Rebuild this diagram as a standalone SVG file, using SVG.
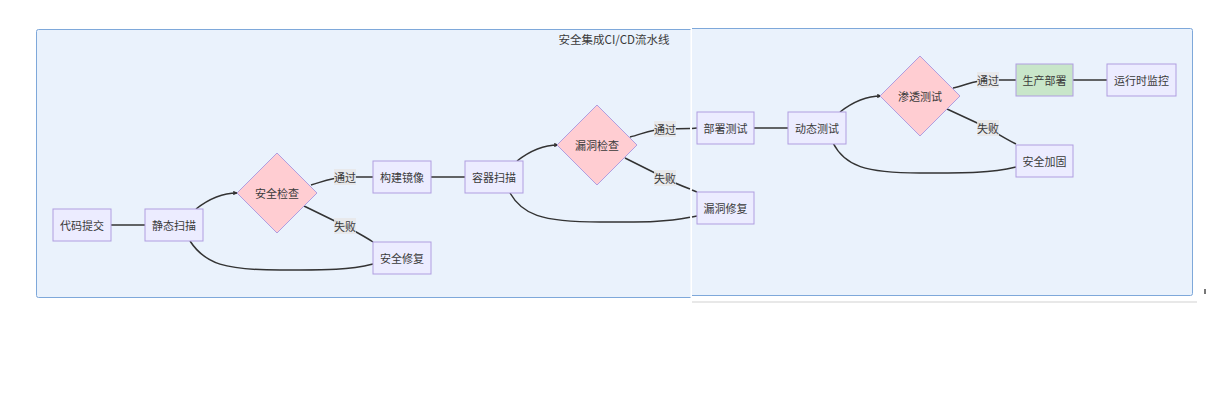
<svg xmlns="http://www.w3.org/2000/svg" width="1206" height="406" viewBox="0 0 1206 406">
<style>
.cluster{fill:#eaf2fc;stroke:none}
.cedge{fill:none;stroke:#7ea8da;stroke-width:1}
.node rect{fill:#ececff;stroke:#b09ee0;stroke-width:1}
.node polygon{fill:#ffcdd2;stroke:#b09ee0;stroke-width:1}
.node.green rect{fill:#c8e6c9}
text{font-family:"Noto Sans CJK SC","Liberation Sans",sans-serif;font-size:11px;fill:#3a3a3a;text-anchor:middle;dominant-baseline:central}
.edge{fill:none;stroke:#333;stroke-width:1.5}
.lbl rect{fill:#e8e8e8;opacity:0.85}
</style>
<defs>
<marker id="tip" viewBox="0 0 6 6" refX="5" refY="3" markerWidth="3" markerHeight="3" orient="auto"><path d="M0,0L6,3L0,6z" fill="#333"/></marker>
</defs>
<rect x="0" y="0" width="1206" height="406" fill="#fff"/>
<g id="cluster">
<rect class="cluster" x="36.5" y="29.5" width="654" height="268"/>
<path class="cedge" d="M690.5,29.5 L38.5,29.5 Q36.5,29.5 36.5,31.5 L36.5,295.5 Q36.5,297.5 38.5,297.5 L690.5,297.5"/>
<rect class="cluster" x="692" y="28.5" width="500.5" height="267"/>
<path class="cedge" d="M692,28.5 L1190.5,28.5 Q1192.5,28.5 1192.5,30.5 L1192.5,293.5 Q1192.5,295.5 1190.5,295.5 L692,295.5"/>
<line x1="692" y1="302" x2="1197" y2="302" stroke="#e8e8e8" stroke-width="2"/>
<rect x="1204" y="289" width="2" height="5" fill="#777"/>
<text x="614" y="39" style="font-size:11.5px">安全集成CI/CD流水线</text>
</g>
<g id="connectors">
<path class="edge" d="M111,225 L145,225"/>
<path class="edge" d="M196,209 C210,198 222,193 237,193" marker-end="url(#tip)"/>
<path class="edge" d="M311,185 C322,182 330,178 345,177 L373,177"/>
<path class="edge" d="M304,206 L345,226 C356,232 364,236 373,242"/>
<path class="edge" d="M373,264 C345,271 320,270 280,270 C225,270 205,264 190,241"/>
<path class="edge" d="M431,177 L465,177"/>
<path class="edge" d="M517,161 C531,150 543,145 558,145" marker-end="url(#tip)"/>
<path class="edge" d="M630,137 C642,134 652,129 665,129 L690,128.5"/>
<path class="edge" d="M692,128.5 L697,128"/>
<path class="edge" d="M625,158 L665,178 C674,183 682,186 690,189"/>
<path class="edge" d="M692,190 L697,192"/>
<path class="edge" d="M697,216 L692,217"/>
<path class="edge" d="M690,217.3 C666,222 648,222 600,222 C540,222 522,214 510,193"/>
<path class="edge" d="M754,128 L788,128"/>
<path class="edge" d="M840,112 C854,101 866,96 881,96" marker-end="url(#tip)"/>
<path class="edge" d="M953,88 C964,86 975,80 988,80 L1016,80"/>
<path class="edge" d="M947,109 L988,128 C998,134 1006,139 1016,144"/>
<path class="edge" d="M1016,167 C990,173 970,173 920,173 C865,173 845,166 833,143"/>
<path class="edge" d="M1073,80 L1107,80"/>
<g class="lbl"><rect x="334" y="169" width="22" height="16"/><text x="345" y="177">通过</text></g>
<g class="lbl"><rect x="334" y="218" width="22" height="16"/><text x="345" y="226">失败</text></g>
<g class="lbl"><rect x="654" y="121" width="22" height="16"/><text x="665" y="129">通过</text></g>
<g class="lbl"><rect x="654" y="170" width="22" height="16"/><text x="665" y="178">失败</text></g>
<g class="lbl"><rect x="977" y="72" width="22" height="16"/><text x="988" y="80">通过</text></g>
<g class="lbl"><rect x="977" y="120" width="22" height="16"/><text x="988" y="128">失败</text></g>
</g>
<g id="n-code" class="node"><rect x="53" y="209" width="58" height="32"/><text x="82" y="225">代码提交</text></g>
<g id="n-static" class="node"><rect x="145" y="209" width="58" height="32"/><text x="174" y="225">静态扫描</text></g>
<g id="n-seccheck" class="node"><polygon points="277,153 317,193 277,233 237,193"/><text x="277" y="193">安全检查</text></g>
<g id="n-build" class="node"><rect x="373" y="161" width="58" height="32"/><text x="402" y="177">构建镜像</text></g>
<g id="n-secfix" class="node"><rect x="373" y="242" width="58" height="32"/><text x="402" y="258">安全修复</text></g>
<g id="n-container" class="node"><rect x="465" y="161" width="58" height="32"/><text x="494" y="177">容器扫描</text></g>
<g id="n-vulncheck" class="node"><polygon points="597,105 637,145 597,185 557,145"/><text x="597" y="145">漏洞检查</text></g>
<g id="n-deploytest" class="node"><rect x="697" y="112" width="57" height="32"/><text x="725.5" y="128">部署测试</text></g>
<g id="n-vulnfix" class="node"><rect x="697" y="192" width="57" height="32"/><text x="725.5" y="208">漏洞修复</text></g>
<g id="n-dynamic" class="node"><rect x="788" y="112" width="58" height="32"/><text x="817" y="128">动态测试</text></g>
<g id="n-pentest" class="node"><polygon points="920,56 960,96 920,136 880,96"/><text x="920" y="96">渗透测试</text></g>
<g id="n-prod" class="node green"><rect x="1016" y="64" width="57" height="32"/><text x="1044.5" y="80">生产部署</text></g>
<g id="n-monitor" class="node"><rect x="1107" y="64" width="69" height="32"/><text x="1141.5" y="80">运行时监控</text></g>
<g id="n-harden" class="node"><rect x="1016" y="145" width="57" height="32"/><text x="1044.5" y="161">安全加固</text></g>
</svg>
